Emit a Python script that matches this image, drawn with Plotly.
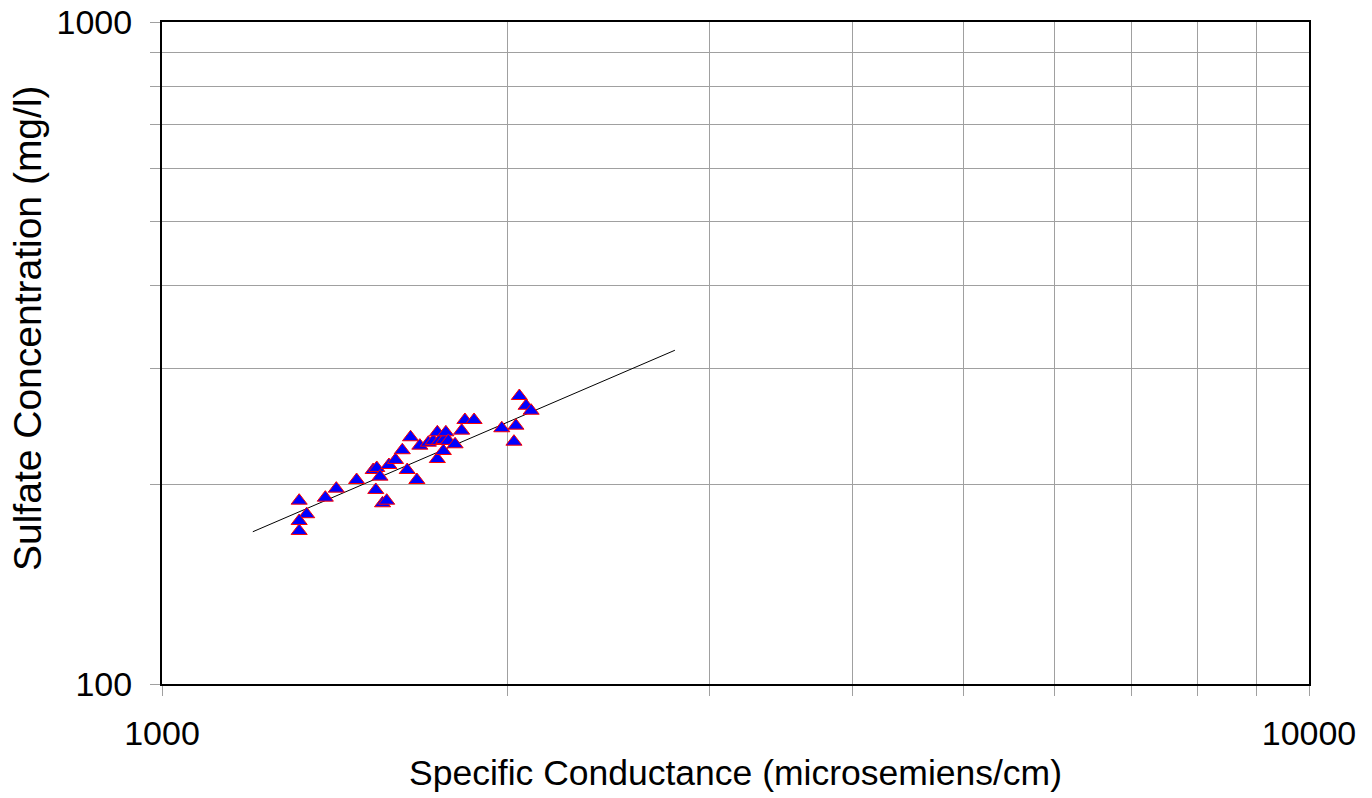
import plotly.graph_objects as go

# Specific conductance (microsiemens/cm) and sulfate concentration (mg/l) samples
conductance = [1317, 1337, 1317, 1317, 1388, 1419, 1478, 1528, 1539, 1549,
               1536, 1557, 1570, 1577, 1598, 1620, 1636, 1647, 1668, 1678,
               1707, 1724, 1738, 1745, 1761, 1768, 1777, 1738, 1759, 1801,
               1825, 1837, 1871, 1978, 2027, 2035, 2049, 2077, 2098]
sulfate = [189.2, 180.5, 176.3, 170.3, 191.2, 197.3, 203.3, 210.5, 212.0, 205.7,
           196.4, 187.5, 189.2, 214.2, 218.0, 225.5, 210.5, 235.9, 203.3, 229.1,
           231.5, 232.9, 240.0, 232.9, 233.7, 240.0, 232.9, 218.7, 224.9, 230.2,
           241.4, 250.5, 250.5, 243.4, 232.3, 245.6, 272.3, 263.2, 258.7]

# Power-law trend line: sulfate = a * conductance ** b
trend_a = 0.863
trend_b = 0.745
trend_x = [1200, 2800]
trend_y = [trend_a * x ** trend_b for x in trend_x]

x_tickvals = [1000, 2000, 3000, 4000, 5000, 6000, 7000, 8000, 9000, 10000]
x_ticktext = ["1000", "", "", "", "", "", "", "", "", "10000"]
y_tickvals = [100, 200, 300, 400, 500, 600, 700, 800, 900, 1000]
y_ticktext = ["100", "", "", "", "", "", "", "", "", "1000"]

x_title = "Specific Conductance (microsemiens/cm)"
y_title = "Sulfate Concentration (mg/l)"

font_family = "Liberation Sans, Arial, sans-serif"
grid_color = "#a0a0a0"

fig = go.Figure()
fig.add_trace(go.Scatter(
    x=trend_x, y=trend_y, mode="lines",
    line=dict(color="black", width=1),
    showlegend=False, hoverinfo="skip",
))
fig.add_trace(go.Scatter(
    x=conductance, y=sulfate, mode="markers",
    marker=dict(symbol="triangle-up", size=14, color="#0000ff",
                line=dict(color="#ff0000", width=1)),
    showlegend=False,
))

fig.update_layout(
    width=1372, height=798,
    margin=dict(l=162, r=63, t=22, b=114, autoexpand=False),
    paper_bgcolor="white", plot_bgcolor="white",
    font=dict(family=font_family, size=34, color="black"),
    xaxis=dict(
        type="log", range=[3, 4],
        tickvals=x_tickvals, ticktext=x_ticktext,
        ticks="outside", ticklen=10, tickcolor=grid_color, tickwidth=1,
        ticklabelstandoff=8,
        showgrid=True, gridcolor=grid_color, gridwidth=1,
        showline=True, linecolor="black", linewidth=2, mirror=True,
        zeroline=False, automargin=False,
        tickfont=dict(size=34),
        title=dict(text=x_title, font=dict(size=35.5), standoff=9),
    ),
    yaxis=dict(
        type="log", range=[2, 3],
        tickvals=y_tickvals, ticktext=y_ticktext,
        ticks="outside", ticklen=10, tickcolor=grid_color, tickwidth=1,
        ticklabelstandoff=11,
        showgrid=True, gridcolor=grid_color, gridwidth=1,
        showline=True, linecolor="black", linewidth=2, mirror=True,
        zeroline=False, automargin=False,
        tickfont=dict(size=34),
    ),
    annotations=[dict(
        text=y_title, textangle=-90,
        xref="paper", yref="paper", x=-0.1168, y=0.5378,
        xanchor="center", yanchor="middle", showarrow=False,
        font=dict(size=39),
    )],
)

fig.write_html("out.html")
